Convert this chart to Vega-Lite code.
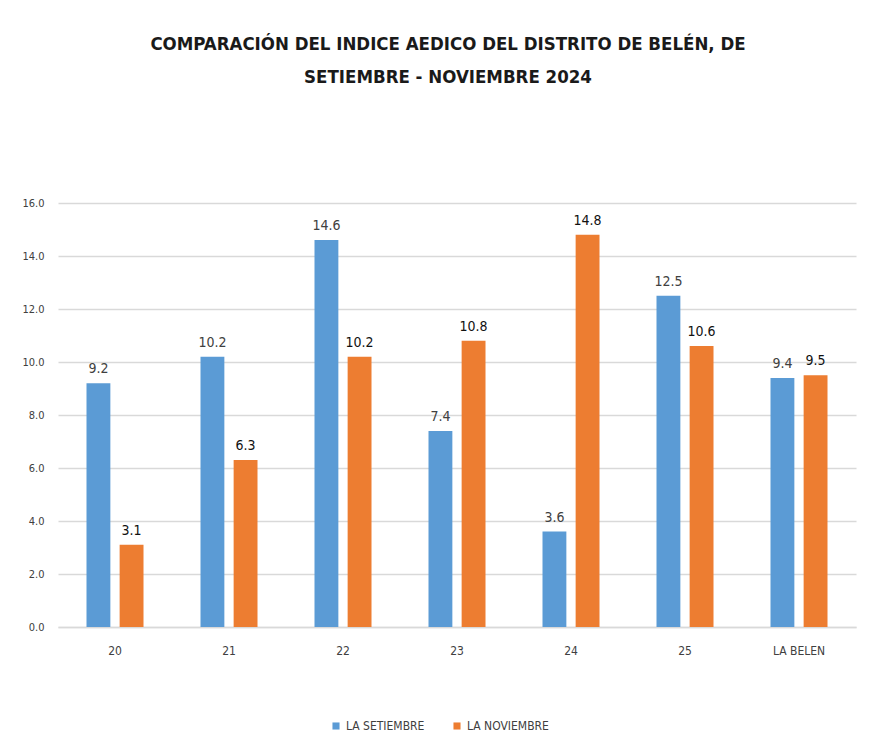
{
  "$schema": "https://vega.github.io/schema/vega-lite/v6.json",
  "autosize": {"type": "none"},
  "width": 798,
  "height": 424,
  "padding": {"left": 58, "top": 203, "right": 13, "bottom": 126},
  "background": "white",
  "title": {
    "text": ["COMPARACIÓN DEL INDICE AEDICO DEL DISTRITO DE BELÉN, DE", "SETIEMBRE - NOVIEMBRE 2024"],
    "font": "DejaVu Sans Condensed, Liberation Sans Narrow, sans-serif",
    "fontSize": 18.5,
    "fontWeight": "bold",
    "color": "#1a1a1a",
    "lineHeight": 33,
    "anchor": "middle",
    "dx": -9,
    "offset": 111
  },
  "data": {
    "values": [
      {"distrito": "20", "serie": "LA SETIEMBRE", "valor": 9.2},
      {"distrito": "20", "serie": "LA NOVIEMBRE", "valor": 3.1},
      {"distrito": "21", "serie": "LA SETIEMBRE", "valor": 10.2},
      {"distrito": "21", "serie": "LA NOVIEMBRE", "valor": 6.3},
      {"distrito": "22", "serie": "LA SETIEMBRE", "valor": 14.6},
      {"distrito": "22", "serie": "LA NOVIEMBRE", "valor": 10.2},
      {"distrito": "23", "serie": "LA SETIEMBRE", "valor": 7.4},
      {"distrito": "23", "serie": "LA NOVIEMBRE", "valor": 10.8},
      {"distrito": "24", "serie": "LA SETIEMBRE", "valor": 3.6},
      {"distrito": "24", "serie": "LA NOVIEMBRE", "valor": 14.8},
      {"distrito": "25", "serie": "LA SETIEMBRE", "valor": 12.5},
      {"distrito": "25", "serie": "LA NOVIEMBRE", "valor": 10.6},
      {"distrito": "LA BELEN", "serie": "LA SETIEMBRE", "valor": 9.4},
      {"distrito": "LA BELEN", "serie": "LA NOVIEMBRE", "valor": 9.5}
    ]
  },
  "encoding": {
    "x": {
      "field": "distrito",
      "type": "nominal",
      "sort": null,
      "scale": {"paddingInner": 0.5, "paddingOuter": 0.25},
      "axis": {
        "title": null,
        "labelAngle": 0,
        "ticks": false,
        "domainColor": "#d9d9d9",
        "domainWidth": 1.5,
        "labelFont": "DejaVu Sans Condensed, sans-serif",
        "labelFontSize": 12,
        "labelColor": "#404040",
        "labelPadding": 18
      }
    },
    "xOffset": {
      "field": "serie",
      "type": "nominal",
      "sort": ["LA SETIEMBRE", "LA NOVIEMBRE"],
      "scale": {"paddingInner": 0.28}
    },
    "y": {
      "field": "valor",
      "type": "quantitative",
      "scale": {"domain": [0, 16]},
      "axis": {
        "title": null,
        "values": [0, 2, 4, 6, 8, 10, 12, 14, 16],
        "format": ".1f",
        "domain": false,
        "ticks": false,
        "gridColor": "#d9d9d9",
        "gridWidth": 1.5,
        "labelFont": "DejaVu Sans Condensed, sans-serif",
        "labelFontSize": 11,
        "labelColor": "#404040",
        "labelPadding": 14
      }
    }
  },
  "layer": [
    {
      "mark": {"type": "bar"},
      "encoding": {
        "color": {
          "field": "serie",
          "type": "nominal",
          "sort": ["LA SETIEMBRE", "LA NOVIEMBRE"],
          "scale": {"domain": ["LA SETIEMBRE", "LA NOVIEMBRE"], "range": ["#5B9BD5", "#ED7D31"]},
          "legend": {
            "title": null,
            "orient": "none",
            "direction": "horizontal",
            "legendX": 272,
            "legendY": 517,
            "symbolType": "square",
            "symbolSize": 50,
            "symbolStrokeWidth": 0,
            "labelFont": "DejaVu Sans Condensed, sans-serif",
            "labelFontSize": 12,
            "labelColor": "#404040",
            "labelOffset": 4,
            "columnPadding": 26
          }
        }
      }
    },
    {
      "mark": {"type": "text", "dy": -14, "font": "DejaVu Sans Condensed, sans-serif", "fontSize": 14},
      "encoding": {
        "text": {"field": "valor", "type": "quantitative", "format": ".1f"},
        "color": {
          "field": "serie",
          "type": "nominal",
          "scale": {"domain": ["LA SETIEMBRE", "LA NOVIEMBRE"], "range": ["#404040", "#111111"]},
          "legend": null
        },
        "fontWeight": {
          "field": "serie",
          "type": "nominal",
          "scale": {"domain": ["LA SETIEMBRE", "LA NOVIEMBRE"], "range": ["normal", "bold"]},
          "legend": null
        }
      }
    }
  ],
  "resolve": {"scale": {"color": "independent"}},
  "config": {"view": {"stroke": null}}
}
